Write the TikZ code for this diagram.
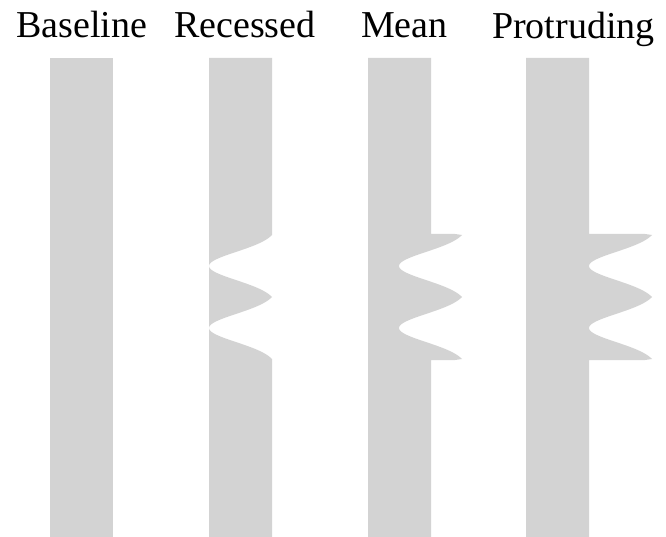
\documentclass[tikz,border=0pt]{standalone}
\usepackage{fontspec}
\setmainfont{Liberation Serif}
\definecolor{bargray}{RGB}{211,211,211}
\tikzset{
  bar/.style={fill=bargray, draw=none},
  lbl/.style={anchor=base west, inner sep=0pt, font=\fontsize{38}{40}\selectfont}
}
% wave profile around trough #2: 0 at the trough, 1 at the cusps 31 px away
\newcommand{\wprof}[2]{((1-exp(-((#1-#2)^2)/400))/0.90954)}
\begin{document}
\begin{tikzpicture}[x=1pt,y=-1pt]
\useasboundingbox (0,0) rectangle (666,537);
% labels
\node[lbl] (l1) at (16,38) {Baseline};
\node[lbl] (l2) at (174,38) {Recessed};
\node[lbl] (l3) at (361,38) {Mean};
\node[lbl] (l4) at (492,39) {Protruding};
% Baseline
\fill[bar] (50,58) rectangle (113,537);
% Recessed
\fill[bar] (209,58) -- (272,58) -- (272,235)
  -- plot[domain=235:297, samples=125, variable=\t] ({209+63*\wprof{\t}{266}}, \t)
  -- plot[domain=297:359, samples=125, variable=\t] ({209+63*\wprof{\t}{328}}, \t)
  -- (272,537) -- (209,537) -- cycle;
% Mean
\fill[bar] (368,58) -- (431,58) -- (431,234) -- (455,234)
  -- plot[domain=235:297, samples=125, variable=\t] ({399+63*\wprof{\t}{266}}, \t)
  -- plot[domain=297:359, samples=125, variable=\t] ({399+63*\wprof{\t}{328}}, \t)
  -- (455,360) -- (431,360) -- (431,537) -- (368,537) -- cycle;
% Protruding
\fill[bar] (526,58) -- (589,58) -- (589,234) -- (645,234)
  -- plot[domain=235:297, samples=125, variable=\t] ({589+63*\wprof{\t}{266}}, \t)
  -- plot[domain=297:359, samples=125, variable=\t] ({589+63*\wprof{\t}{328}}, \t)
  -- (645,360) -- (589,360) -- (589,537) -- (526,537) -- cycle;
\end{tikzpicture}
\end{document}
